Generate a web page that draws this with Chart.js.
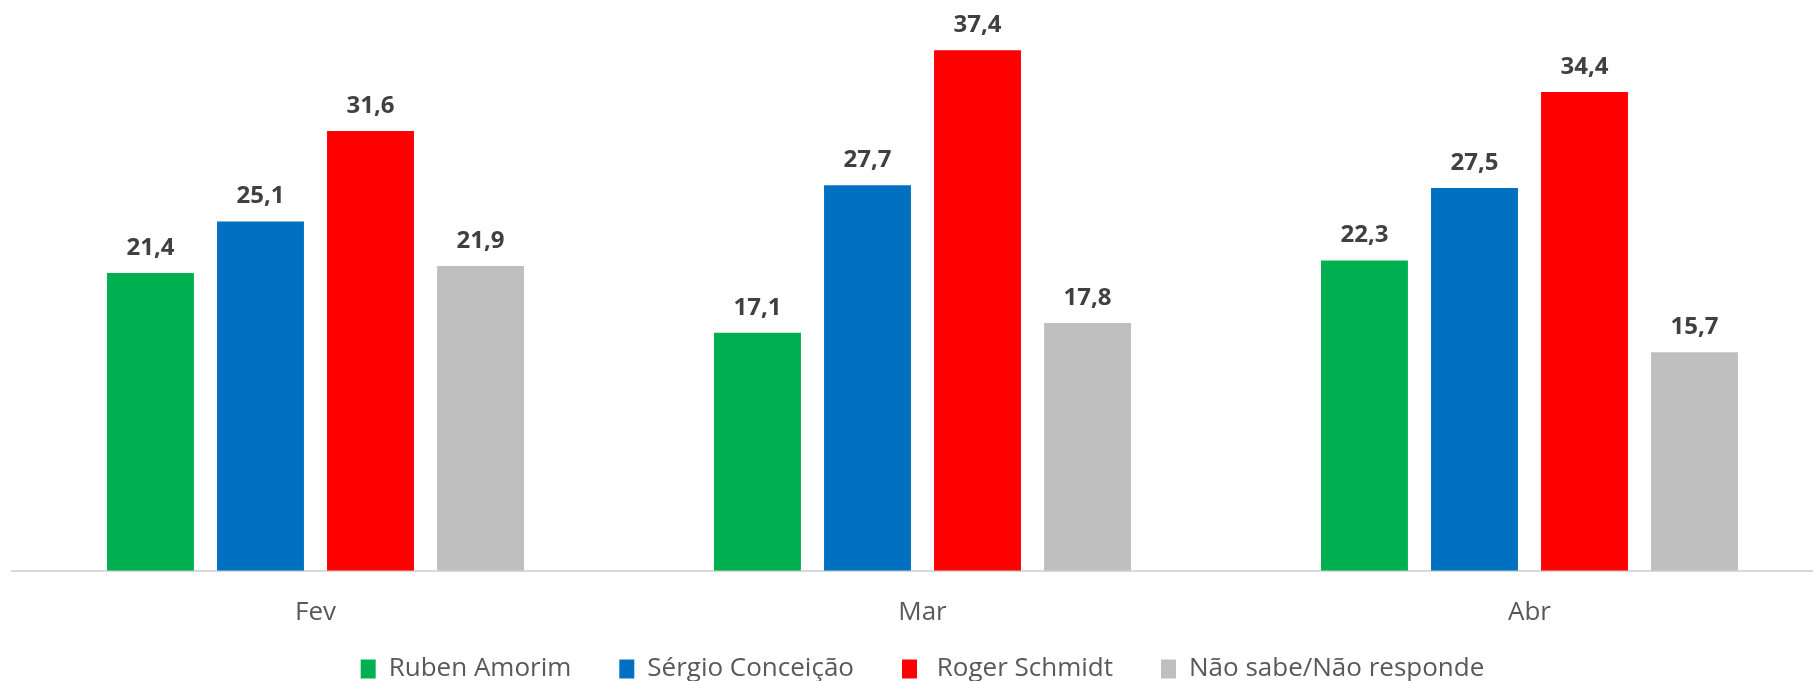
<!DOCTYPE html>
<html>
<head>
<meta charset="utf-8">
<script src="https://cdn.jsdelivr.net/npm/chart.js@4"></script>
<style>
  html, body { margin: 0; padding: 0; background: #fff; overflow: hidden; }
  #wrap { width: 1833px; height: 681px; }
</style>
</head>
<body>
<div id="wrap"><canvas id="chart"></canvas></div>
<script>
// dados
const meses = ['Fev', 'Mar', 'Abr'];
const rubenAmorim = [21.4, 17.1, 22.3];
const sergioConceicao = [25.1, 27.7, 27.5];
const rogerSchmidt = [31.6, 37.4, 34.4];
const naoSabe = [21.9, 17.8, 15.7];

const nomes = ['Ruben Amorim', 'Sérgio Conceição', ' Roger Schmidt', 'Não sabe/Não responde'];
const cores = ['#00b050', '#0070c0', '#ff0000', '#bfbfbf'];

// rótulos de valor por cima das barras
const valueLabels = {
    id: 'valueLabels',
    afterDatasetsDraw(chart) {
        const ctx = chart.ctx;
        ctx.save();
        ctx.font = "bold 24px 'Open Sans', sans-serif";
        ctx.fillStyle = '#404040';
        ctx.textAlign = 'center';
        ctx.textBaseline = 'middle';
        chart.data.datasets.forEach((ds, i) => {
            chart.getDatasetMeta(i).data.forEach((bar, j) => {
                ctx.fillText(ds.data[j].toFixed(1).replace('.', ','), bar.x, bar.y - 25);
            });
        });
        ctx.restore();
    }
};

const series = [rubenAmorim, sergioConceicao, rogerSchmidt, naoSabe];

new Chart(document.getElementById('chart'), {
    type: 'bar',
    data: {
        labels: meses,
        datasets: series.map((d, i) => ({
            label: nomes[i],
            data: d,
            backgroundColor: cores[i],
            categoryPercentage: 0.725,
            barPercentage: 0.79
        }))
    },
    options: {
        responsive: true,
        maintainAspectRatio: false,
        animation: false,
        layout: { padding: { left: 12, right: 0, top: 14, bottom: -11 } },
        scales: {
            x: {
                grid: { display: false, drawTicks: false },
                border: { color: '#d9d9d9', width: 2 },
                ticks: {
                    color: '#595959',
                    font: { size: 26, family: "'Open Sans', sans-serif" },
                    padding: 26
                }
            },
            y: {
                display: false,
                min: 0,
                max: 40
            }
        },
        plugins: {
            legend: {
                position: 'bottom',
                // titulo vazio só para encolher o espaço da legenda
                title: { display: true, text: '', font: { size: 1 }, padding: { top: -47.2, bottom: 0 } },
                labels: {
                    boxWidth: 15,
                    boxHeight: 19,
                    padding: 48,
                    color: '#595959',
                    font: { size: 26, family: "'Open Sans', sans-serif" }
                }
            },
            tooltip: { enabled: false }
        }
    },
    plugins: [valueLabels]
});
</script>
</body>
</html>
